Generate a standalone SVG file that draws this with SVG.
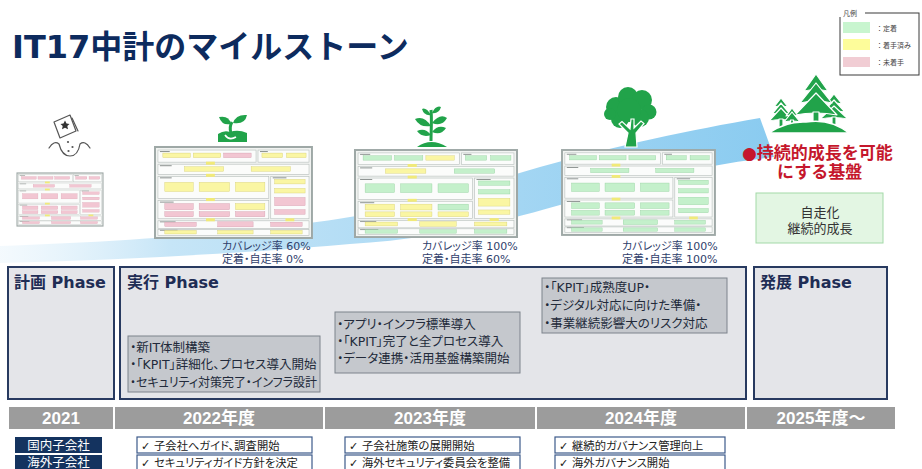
<svg xmlns="http://www.w3.org/2000/svg" width="922" height="469" viewBox="0 0 922 469">
  <defs>
    <linearGradient id="ribbon-fill" x1="0" y1="0" x2="774" y2="0" gradientUnits="userSpaceOnUse">
      <stop offset="0" stop-color="#e3f2fb" stop-opacity="0.4"/>
      <stop offset="0.22" stop-color="#c6e5f7"/>
      <stop offset="1" stop-color="#8acbf0"/>
    </linearGradient>
    <style>
      .jp{font-family:"DejaVu Sans","Noto Sans CJK JP",sans-serif}
      .palt{font-feature-settings:"palt" 1}
      .title{font-size:32px;font-weight:bold;fill:#0d2b5e}
      .rate{font-size:11px;fill:#2f3e6b}
      .phase-box{fill:#e4e5e9;stroke:#283a60;stroke-width:2}
      .phase-title{font-size:16px;font-weight:bold;fill:#1f2d55}
      .note-box{fill:#c5c8cd;stroke:#7d838c;stroke-width:1}
      .note{font-size:12.5px;fill:#222a3a}
      .year-cell{fill:#9c9c9c}
      .year{font-family:"Liberation Sans","Noto Sans CJK JP",sans-serif;font-size:17px;font-weight:bold;fill:#fff;text-anchor:middle}
      .row-label{fill:#14335f}
      .row-text{font-size:12.5px;fill:#fff;text-anchor:middle}
      .check-box{fill:#fff;stroke:#3c5a8a;stroke-width:1.2}
      .check{font-size:11.3px;fill:#222}
      .leaf{fill:#21a34a}
      .g{fill:#c4f0cb;stroke:#93cf9d;stroke-width:.4}
      .y{fill:#faf6a3;stroke:#d5cf72;stroke-width:.4}
      .p{fill:#f2c6d2;stroke:#d49aab;stroke-width:.4}
      .legend-text{font-size:7px;fill:#444}
    </style>
    <!-- slide thumbnail frame, 160 x 90 local units -->
    <g id="thumb-frame">
      <rect x="0" y="0" width="160" height="90" fill="#f2f4f2" stroke="#9ea8a6" stroke-width="2"/>
      <g fill="#fbfcfb" stroke="#b5bdba" stroke-width=".6">
        <rect x="3" y="3" width="100" height="12"/>
        <rect x="105" y="3" width="52" height="12"/>
        <rect x="3" y="17" width="154" height="10"/>
        <rect x="3" y="29" width="113" height="22"/>
        <rect x="118" y="29" width="39" height="42"/>
        <rect x="3" y="53" width="113" height="18"/>
        <rect x="3" y="73" width="154" height="7.5"/>
        <rect x="3" y="81.5" width="154" height="6"/>
      </g>
      <g fill="#8c9290">
        <rect x="5" y="4" width="10" height="1"/>
        <rect x="107" y="4" width="8" height="1"/>
        <rect x="5" y="18" width="12" height="1"/>
        <rect x="5" y="30" width="12" height="1"/>
        <rect x="120" y="30" width="14" height="1"/>
        <rect x="5" y="54" width="14" height="1"/>
        <rect x="5" y="73.6" width="16" height=".9"/>
        <rect x="5" y="81.9" width="18" height=".9"/>
      </g>
      <g fill="#f1ea78">
        <rect x="52" y="14.5" width="9" height="3"/>
        <rect x="52" y="26.5" width="9" height="3"/>
        <rect x="52" y="50.5" width="9" height="3"/>
        <rect x="52" y="70.5" width="9" height="3"/>
        <rect x="133" y="70.5" width="9" height="3"/>
      </g>
    </g>
    <!-- task cells inside a thumbnail; colour comes from the using element -->
    <rect id="a1" x="8" y="6" width="28" height="4.5"/>
    <rect id="a2" x="39" y="6" width="28" height="4.5"/>
    <rect id="a3" x="70" y="6" width="28" height="4.5"/>
    <rect id="a4" x="109" y="6" width="21" height="4.5"/>
    <rect id="a5" x="134" y="6" width="20" height="4.5"/>
    <rect id="b1" x="30" y="19.5" width="40" height="4.5"/>
    <rect id="b2" x="98" y="19.5" width="40" height="4.5"/>
    <rect id="c1" x="10" y="35" width="29" height="9"/>
    <rect id="c2" x="45" y="35" width="31" height="9"/>
    <rect id="c3" x="82" y="35" width="30" height="9"/>
    <rect id="d1" x="122" y="32" width="31" height="4.5"/>
    <rect id="d2" x="122" y="41" width="31" height="4.5"/>
    <rect id="d3" x="122" y="50" width="31" height="8"/>
    <rect id="d4" x="122" y="62" width="31" height="4.5"/>
    <rect id="e1" x="10" y="56" width="29" height="6"/>
    <rect id="e2" x="45" y="56" width="31" height="6"/>
    <rect id="e3" x="82" y="56" width="30" height="6"/>
    <rect id="e4" x="10" y="64" width="29" height="5"/>
    <rect id="e5" x="45" y="64" width="31" height="5"/>
    <rect id="e6" x="82" y="64" width="30" height="5"/>
    <rect id="f1" x="10" y="74.5" width="32" height="4"/>
    <rect id="f2" x="64" y="74" width="36" height="5"/>
    <rect id="f3" x="118" y="74.5" width="32" height="4"/>
    <rect id="g1" x="10" y="82.5" width="32" height="3.5"/>
    <rect id="g2" x="64" y="82.5" width="36" height="3.5"/>
    <rect id="g3" x="118" y="82.5" width="32" height="3.5"/>
  </defs>

  <rect width="922" height="469" fill="#fff"/>

  <!-- heading -->
  <g id="title">
    <text class="jp title" x="12" y="58">IT17中計のマイルストーン</text>
  </g>

  <!-- legend -->
  <g id="legend">
    <rect x="840" y="13" width="79" height="62" fill="#fff" stroke="#3a3a3a" stroke-width="1"/>
    <rect x="838" y="8" width="27" height="9" fill="#fff"/>
    <text class="jp legend-text" x="843" y="16">凡例</text>
    <rect x="843" y="22" width="27" height="11" fill="#c8f5cf"/>
    <rect x="843" y="39" width="27" height="11" fill="#fdfc9a"/>
    <rect x="843" y="57" width="27" height="10" fill="#f1cdd4"/>
    <text class="jp legend-text" x="876" y="30.5">：定着</text>
    <text class="jp legend-text" x="876" y="47.5">：着手済み</text>
    <text class="jp legend-text" x="876" y="64.5">：未着手</text>
  </g>

  <!-- growth ribbon running behind the stages -->
  <g id="connectors">
    <path d="M0,246 C120,242 260,232 350,217 C430,204 480,184 540,167 C620,145 690,130 760,118 L774,157 C700,165 630,183 560,205 C480,228 420,240 350,244 C250,253 120,260 0,263 Z" fill="url(#ribbon-fill)"/>
  </g>

  <!-- 2021: seed -->
  <g id="stage-2021">
    <g fill="none" stroke="#555" stroke-width="1.2" stroke-linejoin="round" stroke-linecap="round">
      <path d="M54,122 L70,115 L76,131 L60,138 Z"/>
      <path d="M72,118 L78,131"/>
      <path d="M49,148 Q54,140 59,144 Q62,156 70,156 Q78,156 80,144 Q85,140 90,148"/>
    </g>
    <path d="M65,120.5 L66.5,123.5 L69.5,124 L67.3,126.1 L68,129.3 L65,127.7 L62,129.3 L62.7,126.1 L60.5,124 L63.5,123.5 Z" fill="#333"/>
    <g fill="#555">
      <circle cx="68" cy="142" r="1.1"/>
      <circle cx="72.5" cy="147" r="1.1"/>
      <circle cx="68.5" cy="151" r="1.1"/>
    </g>
    <g transform="translate(17,173) scale(0.5375,0.589)">
      <use href="#thumb-frame"/>
      <use href="#a1" class="p"/><use href="#a2" class="p"/><use href="#a3" class="p"/><use href="#a4" class="p"/><use href="#a5" class="p"/>
      <use href="#b1" class="p"/><use href="#b2" class="p"/>
      <use href="#c1" class="p"/><use href="#c2" class="p"/><use href="#c3" class="p"/>
      <use href="#d1" class="p"/><use href="#d2" class="p"/><use href="#d3" class="p"/><use href="#d4" class="p"/>
      <use href="#e1" class="p"/><use href="#e2" class="p"/><use href="#e3" class="p"/><use href="#e4" class="p"/><use href="#e5" class="p"/><use href="#e6" class="p"/>
      <use href="#f1" class="p"/><use href="#f2" class="p"/><use href="#f3" class="p"/>
      <use href="#g1" class="p"/><use href="#g2" class="p"/><use href="#g3" class="p"/>
    </g>
  </g>

  <!-- 2022: sprout -->
  <g id="stage-2022">
    <g class="leaf">
      <path d="M218,142 V134 Q224,130 230,132 Q238,129 247,133 V142 Z"/>
      <path d="M231,133 Q229,127 232,122" fill="none" stroke="#21a34a" stroke-width="3"/>
      <path d="M231,124 Q222,126 219,117 Q229,115 231,124 Z"/>
      <path d="M233,123 Q236,114 247,115 Q245,125 233,123 Z"/>
      <path d="M225,135 Q229,141 236,137" fill="none" stroke="#fff" stroke-width="1.6"/>
    </g>
    <g transform="translate(155,147) scale(0.981,1.011)">
      <use href="#thumb-frame"/>
      <use href="#a1" class="y"/><use href="#a2" class="y"/><use href="#a3" class="p"/><use href="#a4" class="y"/><use href="#a5" class="y"/>
      <use href="#b1" class="y"/><use href="#b2" class="y"/>
      <use href="#c1" class="y"/><use href="#c2" class="y"/><use href="#c3" class="y"/>
      <use href="#d1" class="y"/><use href="#d2" class="y"/><use href="#d3" class="p"/><use href="#d4" class="p"/>
      <use href="#e1" class="p"/><use href="#e2" class="p"/><use href="#e3" class="y"/><use href="#e4" class="p"/><use href="#e5" class="p"/><use href="#e6" class="p"/>
      <use href="#f1" class="p"/><use href="#f2" class="p"/><use href="#f3" class="p"/>
      <use href="#g1" class="y"/><use href="#g2" class="y"/><use href="#g3" class="y"/>
    </g>
    <text class="jp palt rate" x="222" y="250">カバレッジ率 60%</text>
    <text class="jp palt rate" x="222" y="263">定着・自走率 0%</text>
  </g>

  <!-- 2023: young plant -->
  <g id="stage-2023">
    <g class="leaf">
      <path d="M417,147 Q431,137 447,147 Z"/>
      <path d="M431,141 C431,130 432,120 431,110" fill="none" stroke="#21a34a" stroke-width="3"/>
      <path d="M431,126 Q424,115 415,119 Q420,128 431,126 Z"/>
      <path d="M432,123 Q440,113 447,118 Q442,127 432,123 Z"/>
      <path d="M431,135 Q425,127 417,131 Q422,138 431,135 Z"/>
      <path d="M432,132 Q438,124 446,128 Q441,136 432,132 Z"/>
      <path d="M431,115 Q426,107 422,109 Q424,116 431,115 Z"/>
      <path d="M432,113 Q436,105 441,107 Q439,114 432,113 Z"/>
    </g>
    <g transform="translate(355,150) scale(1.0125,0.967)">
      <use href="#thumb-frame"/>
      <use href="#a1" class="g"/><use href="#a2" class="g"/><use href="#a3" class="y"/><use href="#a4" class="g"/><use href="#a5" class="g"/>
      <use href="#b1" class="y"/><use href="#b2" class="g"/>
      <use href="#c1" class="g"/><use href="#c2" class="g"/><use href="#c3" class="g"/>
      <use href="#d1" class="g"/><use href="#d2" class="g"/><use href="#d3" class="y"/><use href="#d4" class="y"/>
      <use href="#e1" class="y"/><use href="#e2" class="y"/><use href="#e3" class="g"/><use href="#e4" class="y"/><use href="#e5" class="y"/><use href="#e6" class="y"/>
      <use href="#f1" class="y"/><use href="#f2" class="y"/><use href="#f3" class="y"/>
      <use href="#g1" class="g"/><use href="#g2" class="g"/><use href="#g3" class="g"/>
    </g>
    <text class="jp palt rate" x="422" y="250">カバレッジ率 100%</text>
    <text class="jp palt rate" x="422" y="263">定着・自走率 60%</text>
  </g>

  <!-- 2024: tree -->
  <g id="stage-2024">
    <g class="leaf">
      <circle cx="616" cy="107" r="10"/>
      <circle cx="628" cy="97" r="10"/>
      <circle cx="642" cy="100" r="10"/>
      <circle cx="649" cy="112" r="7.5"/>
      <circle cx="640" cy="118" r="9"/>
      <circle cx="620" cy="119" r="9"/>
      <circle cx="629" cy="110" r="12"/>
      <circle cx="610" cy="114" r="6"/>
      <path d="M625,147 L628,133 L619,124 L622,121.5 L630,129 L631,119 L634,119 L634,128 L641,121 L644,123.5 L636,133 L637,147 Z" stroke="#fff" stroke-width="1.2"/>
    </g>
    <g transform="translate(562,150) scale(0.956,0.944)">
      <use href="#thumb-frame"/>
      <use href="#a1" class="g"/><use href="#a2" class="g"/><use href="#a3" class="g"/><use href="#a4" class="g"/><use href="#a5" class="g"/>
      <use href="#b1" class="g"/><use href="#b2" class="g"/>
      <use href="#c1" class="g"/><use href="#c2" class="g"/><use href="#c3" class="g"/>
      <use href="#d1" class="g"/><use href="#d2" class="g"/><use href="#d3" class="g"/><use href="#d4" class="g"/>
      <use href="#e1" class="g"/><use href="#e2" class="g"/><use href="#e3" class="g"/><use href="#e4" class="g"/><use href="#e5" class="g"/><use href="#e6" class="g"/>
      <use href="#f1" class="g"/><use href="#f2" class="g"/><use href="#f3" class="g"/>
      <use href="#g1" class="g"/><use href="#g2" class="g"/><use href="#g3" class="g"/>
    </g>
    <text class="jp palt rate" x="622" y="250">カバレッジ率 100%</text>
    <text class="jp palt rate" x="622" y="263">定着・自走率 100%</text>
  </g>

  <!-- 2025: forest -->
  <g id="stage-2025">
    <g class="leaf" stroke="#fff" stroke-width="1.2" stroke-linejoin="round">
      <g>
        <path d="M834,94 L826,104 Q834,102 842,104 Z"/>
        <path d="M834,100 L823,112 Q834,110 845,112 Z"/>
        <path d="M834,106 L820,119 Q834,116 848,119 Z"/>
        <rect x="832" y="117" width="4" height="8"/>
      </g>
      <g>
        <path d="M781,98 L774,107 Q781,105 788,107 Z"/>
        <path d="M781,103 L772,114 Q781,112 790,114 Z"/>
        <path d="M781,108 L769,121 Q781,118 793,121 Z"/>
        <rect x="779" y="119" width="4" height="9"/>
      </g>
      <g>
        <path d="M816,74 L804,91 Q816,88 828,91 Z"/>
        <path d="M816,83 L800,103 Q816,99 832,103 Z"/>
        <path d="M816,93 L795,115 Q816,111 837,115 Z"/>
        <rect x="813" y="112" width="6" height="12"/>
      </g>
      <g>
        <path d="M792,108 L786,116 Q792,114 798,116 Z"/>
        <path d="M792,112 L784,122 Q792,120 800,122 Z"/>
        <rect x="790.5" y="120" width="3" height="7"/>
      </g>
      <path d="M769,133 Q786,121 806,122 Q830,118 849,133 Z" stroke-width="1.5"/>
    </g>
    <text class="jp" x="742" y="159" font-size="17" font-weight="bold" fill="#c5172c">●持続的成長を可能</text>
    <text class="jp" x="777" y="178" font-size="17" font-weight="bold" fill="#c5172c">にする基盤</text>
    <rect x="756" y="193" width="127" height="50" fill="#e3f6e3" stroke="#a3d9a8" stroke-width="1"/>
    <text class="jp" x="820" y="217" font-size="13" fill="#333" text-anchor="middle">自走化</text>
    <text class="jp" x="820" y="233" font-size="13" fill="#333" text-anchor="middle">継続的成長</text>
  </g>

  <!-- phases -->
  <g id="phase-plan">
    <rect class="phase-box" x="8" y="267" width="106" height="132"/>
    <text class="jp phase-title" x="14" y="288">計画 Phase</text>
  </g>
  <g id="phase-execute">
    <rect class="phase-box" x="120" y="267" width="626" height="132"/>
    <text class="jp phase-title" x="127" y="288">実行 Phase</text>
    <g id="note-2022">
      <rect class="note-box" x="128" y="336" width="192" height="56"/>
      <text class="jp palt note" x="130" y="351.5">・新IT体制構築</text>
      <text class="jp palt note" x="130" y="369">・「KPIT」詳細化、プロセス導入開始</text>
      <text class="jp palt note" x="130" y="386.5" textLength="187" lengthAdjust="spacingAndGlyphs">・セキュリティ対策完了・インフラ設計</text>
    </g>
    <g id="note-2023">
      <rect class="note-box" x="335" y="312" width="185" height="61"/>
      <text class="jp palt note" x="337" y="328.5">・アプリ・インフラ標準導入</text>
      <text class="jp palt note" x="337" y="345.5">・「KPIT」完了と全プロセス導入</text>
      <text class="jp palt note" x="337" y="363">・データ連携・活用基盤構築開始</text>
    </g>
    <g id="note-2024">
      <rect class="note-box" x="542" y="278" width="185" height="55"/>
      <text class="jp palt note" x="544" y="291.5">・「KPIT」成熟度UP・</text>
      <text class="jp palt note" x="544" y="309.5">・デジタル対応に向けた準備・</text>
      <text class="jp palt note" x="544" y="327.5">・事業継続影響大のリスク対応</text>
    </g>
  </g>
  <g id="phase-grow">
    <rect class="phase-box" x="754" y="267" width="133" height="132"/>
    <text class="jp phase-title" x="760" y="288">発展 Phase</text>
  </g>

  <!-- fiscal year header -->
  <g id="years">
    <rect class="year-cell" x="9" y="407" width="104" height="22"/>
    <rect class="year-cell" x="115" y="407" width="208" height="22"/>
    <rect class="year-cell" x="325" y="407" width="210" height="22"/>
    <rect class="year-cell" x="537" y="407" width="208" height="22"/>
    <rect class="year-cell" x="747" y="407" width="148" height="22"/>
    <text class="year" x="61" y="424">2021</text>
    <text class="year" x="219" y="424">2022年度</text>
    <text class="year" x="430" y="424">2023年度</text>
    <text class="year" x="641" y="424">2024年度</text>
    <text class="year" x="821" y="424">2025年度～</text>
  </g>

  <!-- subsidiary rows -->
  <g id="row-domestic">
    <rect class="row-label" x="15" y="437" width="87" height="16"/>
    <text class="jp row-text" x="58.5" y="450">国内子会社</text>
    <rect class="check-box" x="137" y="437" width="175" height="16"/>
    <text class="jp palt check" x="141" y="449.5">✓ 子会社へガイド、調査開始</text>
    <rect class="check-box" x="345" y="437" width="175" height="16"/>
    <text class="jp palt check" x="349" y="449.5">✓ 子会社施策の展開開始</text>
    <rect class="check-box" x="555" y="437" width="170" height="16"/>
    <text class="jp palt check" x="559" y="449.5">✓ 継続的ガバナンス管理向上</text>
  </g>
  <g id="row-overseas">
    <rect class="row-label" x="15" y="455" width="87" height="16"/>
    <text class="jp row-text" x="58.5" y="467">海外子会社</text>
    <rect class="check-box" x="137" y="455" width="175" height="16"/>
    <text class="jp palt check" x="141" y="467">✓ セキュリティガイド方針を決定</text>
    <rect class="check-box" x="345" y="455" width="175" height="16"/>
    <text class="jp palt check" x="349" y="467">✓ 海外セキュリティ委員会を整備</text>
    <rect class="check-box" x="555" y="455" width="170" height="16"/>
    <text class="jp palt check" x="559" y="467">✓ 海外ガバナンス開始</text>
  </g>
</svg>
